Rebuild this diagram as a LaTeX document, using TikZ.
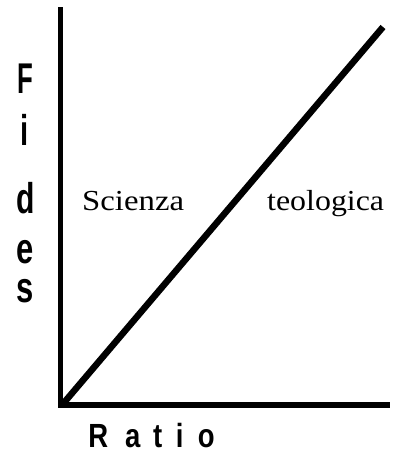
\documentclass[tikz,border=0pt]{standalone}
\usepackage{fontspec}
\setmainfont{Liberation Serif}
\newfontfamily\axisfont{Liberation Sans}
\newcommand{\rl}[1]{\makebox[0pt]{\scalebox{0.82}[1]{#1}}}
\begin{document}
\begin{tikzpicture}[x=1pt,y=-1pt,
  axisline/.style={line width=5.5pt},
  diagline/.style={line width=6.5pt},
  vletter/.style={inner sep=0pt,font=\axisfont\bfseries\fontsize{43}{43}\selectfont},
  xlabel/.style={inner sep=0pt,font=\axisfont\bfseries\fontsize{33.5}{33.5}\selectfont},
  region/.style={inner sep=0pt,font=\fontsize{29}{29}\selectfont}]
\useasboundingbox (0,0) rectangle (394,455);
\coordinate (ytop) at (60.5,7);
\coordinate (orig) at (60.5,405);
\coordinate (xend) at (390,405);
\coordinate (dstart) at (62,405);
\coordinate (dend) at (383,27);
\draw[axisline,line join=miter] (ytop) -- (orig) -- (xend);
\draw[diagline] (dstart) -- (dend);
% Fides
\node[vletter,anchor=base] (f1) at (25,93) {\scalebox{0.6}[1]{F}};
\node[vletter,anchor=base] (f2) at (25,145) {\scalebox{0.68}[1]{i}};
\node[vletter,anchor=base] (f3) at (25.5,213) {\scalebox{0.7}[1]{d}};
\node[vletter,anchor=base] (f4) at (25.5,263) {\scalebox{0.72}[1]{e}};
\node[vletter,anchor=base] (f5) at (25.5,302) {\scalebox{0.72}[1]{s}};
% Ratio
\node[xlabel,anchor=base west] (ratio) at (98,447) {\rl{R}\hspace{34.5pt}\rl{a}\hspace{25pt}\rl{t}\hspace{22pt}\rl{i}\hspace{26.5pt}\rl{o}};
% regions
\node[region,anchor=base west] (sci) at (82,210) {\scalebox{1.13}[1]{Scienza}};
\node[region,anchor=base west] (teo) at (267,210) {\scalebox{1.1}[1]{teologica}};
\end{tikzpicture}
\end{document}
